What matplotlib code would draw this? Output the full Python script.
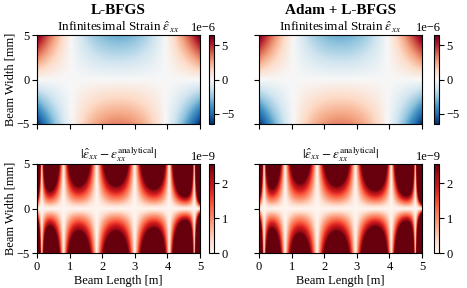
import numpy as np
import matplotlib
matplotlib.use('Agg')
import matplotlib.pyplot as plt

plt.rcParams['font.family'] = ['Liberation Serif', 'DejaVu Serif']
plt.rcParams['mathtext.fontset'] = 'stix'
plt.rcParams['font.size'] = 9
plt.rcParams['ytick.major.pad'] = 2
plt.rcParams['xtick.major.pad'] = 2.5

# beam geometry and plot values
beam_length = 5.0          # m
half_width = 5.0           # mm
x_ticks = [0, 1, 2, 3, 4, 5]
y_ticks = [-5, 0, 5]
strain_coef = 3.12e-7      # clamped beam: eps = c * y * (x^2 - L x + L^2/6)
strain_lim = 6.5e-6
strain_ticks = [-5e-6, 0, 5e-6]
err_max = 2.55e-9
err_ticks = [0, 1e-9, 2e-9]
err_scale = 2.0e-10
# x positions where the error vanishes (white vertical lines)
err_zeros_lbfgs = [0.14, 0.81, 1.83, 3.00, 4.06, 4.83]
err_zeros_adam = [0.15, 0.80, 1.78, 2.96, 4.06, 4.80]
titles = ['L-BFGS', 'Adam + L-BFGS']

x = np.linspace(0, beam_length, 400)
y = np.linspace(-half_width, half_width, 200)
X, Y = np.meshgrid(x, y)
strain = strain_coef * Y * (X**2 - beam_length * X + beam_length**2 / 6)


def error_field(zeros):
    h = np.ones_like(X)
    for z in zeros:
        h = h * (X - z)
    return np.abs(Y * err_scale * h)


errors = [error_field(err_zeros_lbfgs), error_field(err_zeros_adam)]

fig = plt.figure(figsize=(4.67, 2.88), dpi=100)
lefts = [37 / 467, 259 / 467]
cb_lefts = [209 / 467, 434 / 467]
w = 163 / 467
h = 89 / 288
bottoms = [1 - 124 / 288, 1 - 253 / 288]
ext = [0, beam_length, -half_width, half_width]


def fix_offset(cb):
    off = cb.ax.yaxis.get_offset_text()
    off.set_horizontalalignment('right')
    off.set_x(1.3)


for col in range(2):
    # strain row
    ax = fig.add_axes([lefts[col], bottoms[0], w, h])
    im = ax.imshow(strain, extent=ext, origin='lower', aspect='auto',
                   cmap='RdBu_r', vmin=-strain_lim, vmax=strain_lim)
    ax.set_title(r'Infinitesimal Strain $\hat{\varepsilon}_{xx}$', fontsize=9.5, pad=2)
    ax.text(0.5, 1.2, titles[col], transform=ax.transAxes, ha='center',
            va='bottom', fontsize=11, fontweight='bold')
    ax.set_xticks(x_ticks)
    ax.set_xticklabels([])
    ax.set_yticks(y_ticks)
    if col == 0:
        ax.set_ylabel('Beam Width [mm]', labelpad=0)
    else:
        ax.set_yticklabels([])
    cax = fig.add_axes([cb_lefts[col], bottoms[0], 5 / 467, h])
    cb = fig.colorbar(im, cax=cax, ticks=strain_ticks)
    fix_offset(cb)

    # error row
    ax = fig.add_axes([lefts[col], bottoms[1], w, h])
    im = ax.imshow(errors[col], extent=ext, origin='lower', aspect='auto',
                   cmap='Reds', vmin=0, vmax=err_max)
    ax.set_title(r'$|\hat{\varepsilon}_{xx} - \varepsilon_{xx}^{\mathrm{analytical}}|$',
                 fontsize=9.5, pad=3)
    ax.set_xticks(x_ticks)
    ax.set_yticks(y_ticks)
    ax.set_xlabel('Beam Length [m]', labelpad=1)
    if col == 0:
        ax.set_ylabel('Beam Width [mm]', labelpad=0)
    else:
        ax.set_yticklabels([])
    cax = fig.add_axes([cb_lefts[col], bottoms[1], 5 / 467, h])
    cb = fig.colorbar(im, cax=cax, ticks=err_ticks)
    fix_offset(cb)

plt.savefig('out.png', dpi=100)
